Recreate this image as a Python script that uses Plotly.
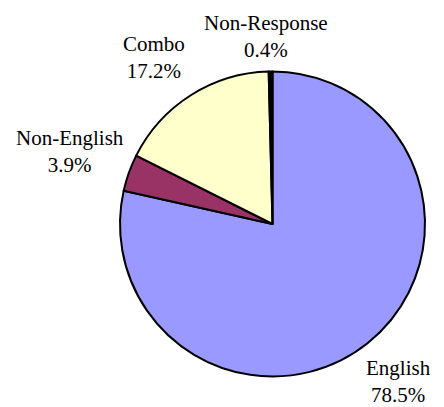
import math
import plotly.graph_objects as go

# Survey response shares (percent)
categories = ["English", "Non-English", "Combo", "Non-Response"]
shares = [78.5, 3.9, 17.2, 0.4]
colors = ["#9999FF", "#993366", "#FFFFCC", "#000000"]

W, H = 444, 407
cx, cy, R = 272.5, 224.0, 152.5          # pie centre and radius in pixels
label_dist = [1.32, 1.41, 1.34, 1.23]      # label distance from centre, in radii
label_turn = [0.0, 0.0, -3.0, -1.2]        # small angular nudge of each label, degrees

fig = go.Figure(go.Pie(
    labels=categories,
    values=shares,
    sort=False,
    direction="clockwise",
    rotation=0,
    textinfo="none",
    hoverinfo="label+percent",
    marker=dict(colors=colors, line=dict(color="black", width=2)),
    domain=dict(x=[(cx - R) / W, (cx + R) / W],
                y=[1 - (cy + R) / H, 1 - (cy - R) / H]),
    showlegend=False,
))

# Outside labels placed at each slice's mid-angle
total = sum(shares)
cum = 0.0
annotations = []
for name, val, k, turn in zip(categories, shares, label_dist, label_turn):
    mid = (cum + val / 2) / total * 2 * math.pi + math.radians(turn)
    cum += val
    ux, uy = math.sin(mid), math.cos(mid)
    px = cx + k * R * ux
    py = cy - k * R * uy
    annotations.append(dict(
        x=px / W, y=1 - py / H, xref="paper", yref="paper",
        text=f"{name}<br>{val:.1f}%", showarrow=False,
        xanchor="center", yanchor="middle", align="center",
        font=dict(family="Liberation Serif", size=21, color="black"),
    ))

fig.update_layout(
    width=W, height=H,
    margin=dict(l=0, r=0, t=0, b=0),
    paper_bgcolor="white", plot_bgcolor="white",
    font=dict(family="Liberation Serif"),
    annotations=annotations,
)

fig.write_html("out.html")
